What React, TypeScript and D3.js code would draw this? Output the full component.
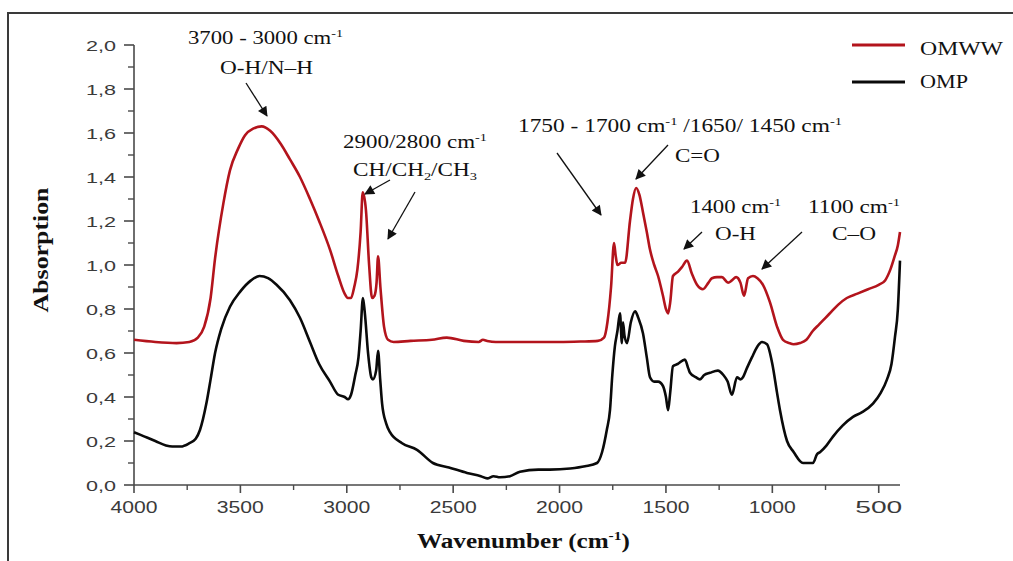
import React from "react";
import * as d3 from "d3";

const wnOMWW = [4000, 3900, 3800, 3740, 3700, 3670, 3640, 3619, 3580, 3549, 3510, 3478, 3440, 3400, 3360, 3310, 3267, 3220, 3173, 3130, 3079, 3040, 3010, 2995, 2980, 2965, 2950, 2935, 2925, 2910, 2895, 2881, 2870, 2860, 2853, 2842, 2825, 2806, 2780, 2700, 2600, 2530, 2450, 2380, 2360, 2340, 2300, 2200, 2100, 2000, 1900, 1820, 1791, 1775, 1758, 1744, 1736, 1728, 1710, 1692, 1669, 1655, 1640, 1625, 1608, 1590, 1575, 1555, 1537, 1514, 1500, 1490, 1480, 1467, 1443, 1425, 1401, 1378, 1354, 1326, 1300, 1284, 1260, 1237, 1208, 1190, 1170, 1150, 1133, 1114, 1091, 1070, 1044, 1011, 978, 950, 920, 900, 870, 840, 810, 780, 750, 720, 690, 650, 600, 550, 500, 470, 445, 425, 410, 400];
const absOMWW = [0.66, 0.65, 0.645, 0.65, 0.67, 0.72, 0.85, 1.03, 1.28, 1.43, 1.53, 1.59, 1.62, 1.63, 1.61, 1.55, 1.48, 1.4, 1.3, 1.2, 1.07, 0.95, 0.87, 0.85, 0.85, 0.9, 0.98, 1.15, 1.33, 1.25, 1.0, 0.85, 0.86, 0.92, 1.04, 0.9, 0.72, 0.66, 0.65, 0.655, 0.66, 0.67, 0.655, 0.65, 0.66, 0.655, 0.65, 0.65, 0.65, 0.65, 0.652, 0.655, 0.67, 0.74, 0.9, 1.1, 1.04, 1.0, 1.01, 1.01, 1.2, 1.3, 1.35, 1.32, 1.24, 1.15, 1.07, 1.0, 0.95, 0.86, 0.8, 0.78, 0.83, 0.95, 0.97, 0.99, 1.02, 0.96, 0.91, 0.89, 0.92, 0.94, 0.945, 0.945, 0.92, 0.93, 0.945, 0.92, 0.86, 0.94, 0.95, 0.94, 0.91, 0.83, 0.72, 0.66, 0.645, 0.64, 0.645, 0.66, 0.7, 0.73, 0.76, 0.79, 0.82, 0.85, 0.87, 0.89, 0.91, 0.93, 0.98, 1.04, 1.09, 1.15];

const wnOMP = [4000, 3950, 3900, 3850, 3820, 3780, 3740, 3710, 3690, 3660, 3640, 3619, 3590, 3549, 3500, 3450, 3410, 3370, 3330, 3267, 3220, 3173, 3130, 3079, 3040, 3010, 2994, 2980, 2960, 2945, 2935, 2924, 2915, 2900, 2885, 2877, 2862, 2853, 2843, 2834, 2815, 2797, 2740, 2670, 2595, 2520, 2435, 2370, 2340, 2310, 2280, 2233, 2186, 2100, 2045, 1950, 1880, 1824, 1800, 1778, 1763, 1752, 1740, 1728, 1716, 1707, 1702, 1695, 1683, 1665, 1645, 1630, 1608, 1590, 1575, 1555, 1537, 1514, 1500, 1490, 1480, 1467, 1445, 1411, 1395, 1387, 1360, 1340, 1320, 1293, 1256, 1230, 1210, 1190, 1166, 1150, 1138, 1120, 1096, 1070, 1049, 1025, 1000, 978, 964, 931, 900, 856, 830, 809, 790, 775, 745, 715, 670, 621, 580, 527, 490, 461, 440, 424, 410, 400];
const absOMP = [0.24, 0.22, 0.2, 0.18, 0.175, 0.175, 0.19, 0.21, 0.25, 0.37, 0.48, 0.6, 0.71, 0.81, 0.88, 0.93, 0.95, 0.94, 0.91, 0.84, 0.76, 0.65, 0.55, 0.47, 0.41, 0.4, 0.39, 0.41, 0.5, 0.58, 0.7, 0.85, 0.78, 0.6, 0.49, 0.48, 0.52, 0.61, 0.48, 0.37, 0.28, 0.24, 0.19, 0.16, 0.1, 0.08, 0.055, 0.04, 0.03, 0.04, 0.035, 0.04, 0.06, 0.07, 0.07, 0.075, 0.085, 0.1, 0.15, 0.25, 0.34, 0.5, 0.63, 0.7, 0.78, 0.645, 0.74, 0.68, 0.645, 0.74, 0.79, 0.76, 0.69, 0.58, 0.49, 0.47, 0.47, 0.45, 0.4, 0.34, 0.42, 0.54, 0.55, 0.57, 0.53, 0.51, 0.49, 0.48, 0.5, 0.51, 0.52, 0.5, 0.47, 0.41, 0.49, 0.48, 0.49, 0.53, 0.58, 0.63, 0.65, 0.64, 0.55, 0.42, 0.34, 0.2, 0.15, 0.1, 0.1, 0.1, 0.14, 0.15, 0.18, 0.22, 0.27, 0.31, 0.33, 0.37, 0.42, 0.48, 0.55, 0.67, 0.8, 1.02];

const xTickValues = [4000, 3500, 3000, 2500, 2000, 1500, 1000, 500];
const xMinorValues = [3750, 3250, 2750, 2250, 1750, 1250, 750];
const yTickValues = [0, 0.2, 0.4, 0.6, 0.8, 1.0, 1.2, 1.4, 1.6, 1.8, 2.0];
const yMinorValues = [0.1, 0.3, 0.5, 0.7, 0.9, 1.1, 1.3, 1.5, 1.7, 1.9];
const seriesNames = ["OMWW", "OMP"];
const seriesColors = ["#b3141c", "#0a0a0a"];

type Part = { t: string; k?: "sup" | "sub" };

function Rich({ parts, x, y, len, size = 18, anchor = "start", weight = "normal", transform }: any) {
  let shift = 0;
  const nodes = parts.map((p: Part, i: number) => {
    let target = 0;
    let fs = size;
    if (p.k === "sup") { target = -size * 0.38; fs = size * 0.62; }
    if (p.k === "sub") { target = size * 0.22; fs = size * 0.62; }
    const dy = target - shift;
    shift = target;
    return (
      <tspan key={i} dy={dy} fontSize={fs}>{p.t}</tspan>
    );
  });
  return (
    <text x={x} y={y} textLength={len} lengthAdjust="spacingAndGlyphs" fontFamily="'Liberation Serif', 'Times New Roman', serif" fontSize={size} fontWeight={weight} fill="#111" textAnchor={anchor} transform={transform}>
      {nodes}
    </text>
  );
}

export default function App() {
  const x = d3.scaleLinear().domain([4000, 400]).range([134, 900]);
  const y = d3.scaleLinear().domain([0, 2]).range([485, 45]);
  const line = d3
    .line<[number, number]>()
    .x((d) => x(d[0]))
    .y((d) => y(d[1]))
    .curve(d3.curveMonotoneX);

  const dOMWW = line(wnOMWW.map((w, i) => [w, absOMWW[i]] as [number, number])) || "";
  const dOMP = line(wnOMP.map((w, i) => [w, absOMP[i]] as [number, number])) || "";
  const fmt = (v: number) => d3.format(".1f")(v).replace(".", ",");
  const axisColor = "#4a4a4a";
  const labelColor = "#3a3a3a";

  const annotations: { parts: Part[]; x: number; y: number; len: number }[] = [
    { parts: [{ t: "3700 - 3000 cm" }, { t: "-1", k: "sup" }], x: 188, y: 44, len: 155 },
    { parts: [{ t: "O-H/N–H" }], x: 220, y: 74, len: 93 },
    { parts: [{ t: "2900/2800 cm" }, { t: "-1", k: "sup" }], x: 343, y: 148, len: 144 },
    { parts: [{ t: "CH/CH" }, { t: "2", k: "sub" }, { t: "/CH" }, { t: "3", k: "sub" }], x: 353, y: 176, len: 124 },
    { parts: [{ t: "1750 - 1700 cm" }, { t: "-1", k: "sup" }, { t: " /1650/ 1450 cm" }, { t: "-1", k: "sup" }], x: 518, y: 132, len: 324 },
    { parts: [{ t: "C=O" }], x: 675, y: 162, len: 45 },
    { parts: [{ t: "1400 cm" }, { t: "-1", k: "sup" }], x: 690, y: 213, len: 91 },
    { parts: [{ t: "O-H" }], x: 715, y: 240, len: 41 },
    { parts: [{ t: "1100 cm" }, { t: "-1", k: "sup" }], x: 808, y: 213, len: 92 },
    { parts: [{ t: "C–O" }], x: 832, y: 240, len: 44 },
  ];

  const arrows = [
    [246, 83, 267, 116],
    [390, 180, 365, 194],
    [415, 192, 388, 239],
    [557, 153, 601, 215],
    [668, 145, 636, 179],
    [702, 232, 684, 249],
    [802, 232, 762, 269],
  ];

  return (
    <svg width={1013} height={561} style={{ position: "absolute", left: 0, top: 0, background: "#fff" }}>
      <defs>
        <marker id="ah" viewBox="0 0 10 10" refX={9} refY={5} markerWidth={12} markerHeight={10} markerUnits="userSpaceOnUse" orient="auto">
          <path d="M0,0L10,5L0,10z" fill="#111" />
        </marker>
      </defs>
      <rect x={8} y={13} width={1020} height={570} fill="none" stroke="#3a3a3a" strokeWidth={2} />

      {/* axes */}
      <line x1={x(4000)} x2={x(400)} y1={y(0)} y2={y(0)} stroke={axisColor} strokeWidth={1.6} />
      <line x1={x(4000)} x2={x(4000)} y1={y(0)} y2={y(2)} stroke={axisColor} strokeWidth={1.6} />
      {xTickValues.map((v) => (
        <g key={"xt" + v}>
          <line x1={x(v)} x2={x(v)} y1={y(0)} y2={y(0) + 8} stroke={axisColor} strokeWidth={1.6} />
          <text x={x(v)} y={513} textAnchor="middle" textLength={47} lengthAdjust="spacingAndGlyphs" fontFamily="'Liberation Sans', Arial, sans-serif" fontSize={16} fill={labelColor}>
            {String(v)}
          </text>
        </g>
      ))}
      {xMinorValues.map((v) => (
        <line key={"xm" + v} x1={x(v)} x2={x(v)} y1={y(0)} y2={y(0) + 5} stroke={axisColor} strokeWidth={1.4} />
      ))}
      {yTickValues.map((v) => (
        <g key={"yt" + v}>
          <line x1={x(4000) - 10} x2={x(4000)} y1={y(v)} y2={y(v)} stroke={axisColor} strokeWidth={1.6} />
          <text x={116} y={y(v) + 5.5} textAnchor="end" textLength={30} lengthAdjust="spacingAndGlyphs" fontFamily="'Liberation Sans', Arial, sans-serif" fontSize={15} fill={labelColor}>
            {fmt(v)}
          </text>
        </g>
      ))}
      {yMinorValues.map((v) => (
        <line key={"ym" + v} x1={x(4000) - 6} x2={x(4000)} y1={y(v)} y2={y(v)} stroke={axisColor} strokeWidth={1.4} />
      ))}

      {/* axis titles */}
      <Rich parts={[{ t: "Absorption" }]} x={0} y={0} len={125} size={20} anchor="middle" weight="bold" transform="translate(48,250) rotate(-90)" />
      <Rich parts={[{ t: "Wavenumber (cm" }, { t: "-1", k: "sup" }, { t: ")" }]} x={417} y={548} len={213} size={20} weight="bold" />

      {/* series */}
      <path d={dOMWW} fill="none" stroke={seriesColors[0]} strokeWidth={2.6} strokeLinejoin="round" />
      <path d={dOMP} fill="none" stroke={seriesColors[1]} strokeWidth={2.6} strokeLinejoin="round" />

      {/* legend */}
      {seriesNames.map((n, i) => (
        <g key={n}>
          <line x1={852} x2={905} y1={45 + i * 37} y2={45 + i * 37} stroke={seriesColors[i]} strokeWidth={3} />
          <text x={920} y={55 + i * 33} textLength={i === 0 ? 83 : 48} lengthAdjust="spacingAndGlyphs" fontFamily="'Liberation Serif', 'Times New Roman', serif" fontSize={19} fill="#111">
            {n}
          </text>
        </g>
      ))}

      {/* annotations */}
      {annotations.map((a, i) => (
        <Rich key={i} parts={a.parts} x={a.x} y={a.y} len={a.len} size={18} />
      ))}
      {arrows.map((a, i) => (
        <line key={i} x1={a[0]} y1={a[1]} x2={a[2]} y2={a[3]} stroke="#111" strokeWidth={1.3} markerEnd="url(#ah)" />
      ))}
    </svg>
  );
}
